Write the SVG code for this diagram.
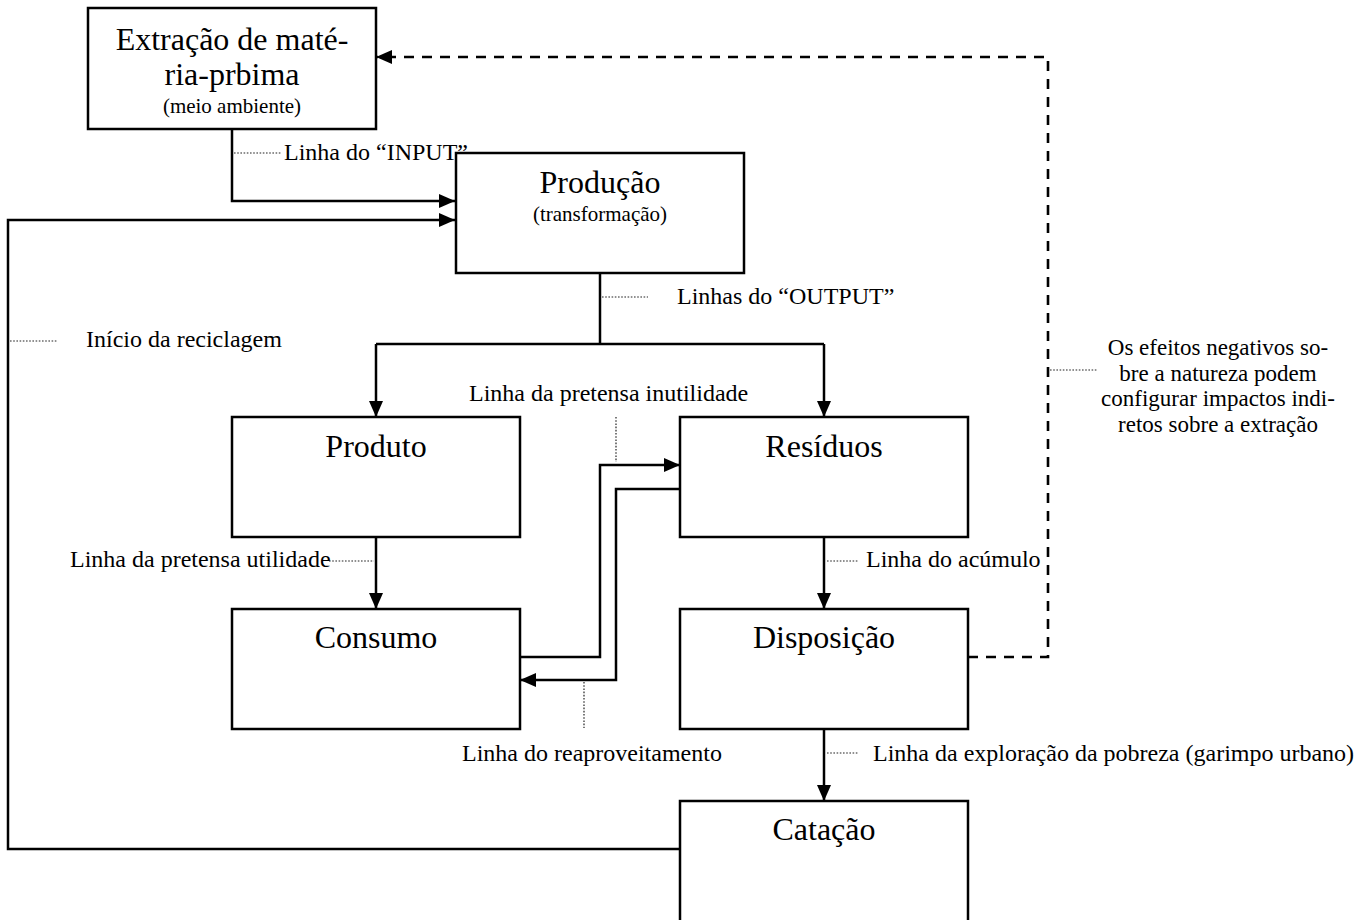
<svg xmlns="http://www.w3.org/2000/svg" width="1370" height="920" viewBox="0 0 1370 920">
<style>
.box{fill:#fff;stroke:#000;stroke-width:2.5}
.t{font-family:"Liberation Serif","Times New Roman",serif;fill:#000}
.title{font-size:32px;text-anchor:middle}
.sub{font-size:21px;text-anchor:middle}
.lbl{font-size:24px}
.note{font-size:23px;text-anchor:middle}
.c{fill:none;stroke:#000;stroke-width:2.5}
.dash{fill:none;stroke:#000;stroke-width:2.6;stroke-dasharray:10 8}
.dot{fill:none;stroke:#222;stroke-width:1.2;stroke-dasharray:1.6 1.6}
</style>
<defs>
<marker id="ah" markerUnits="userSpaceOnUse" markerWidth="18" markerHeight="16" refX="16" refY="7" orient="auto">
<path d="M0,0 L16,7 L0,14 z" fill="#000" stroke="none"/>
</marker>
</defs>
<rect width="1370" height="920" fill="#fff"/>
<g id="connectors">
<path class="c" d="M232,129 V201 H455" marker-end="url(#ah)"/>
<path class="c" d="M680,849 H8 V220 H455" marker-end="url(#ah)"/>
<path class="c" d="M600,273 V344"/>
<path class="c" d="M376,344 H824"/>
<path class="c" d="M376,344 V417" marker-end="url(#ah)"/>
<path class="c" d="M824,344 V417" marker-end="url(#ah)"/>
<path class="c" d="M376,537 V609" marker-end="url(#ah)"/>
<path class="c" d="M520,657 H600 V465 H680" marker-end="url(#ah)"/>
<path class="c" d="M680,489 H616 V680 H520" marker-end="url(#ah)"/>
<path class="c" d="M824,537 V609" marker-end="url(#ah)"/>
<path class="c" d="M824,729 V801" marker-end="url(#ah)"/>
<path class="dash" d="M968,657 H1048 V57 H376" marker-end="url(#ah)"/>
</g>
<g id="leaders">
<path class="dot" d="M234,153 H282"/>
<path class="dot" d="M602,297 H648"/>
<path class="dot" d="M10,341 H57"/>
<path class="dot" d="M616,417 V462"/>
<path class="dot" d="M329,561 H374"/>
<path class="dot" d="M827,561 H858"/>
<path class="dot" d="M584,682 V728"/>
<path class="dot" d="M827,753 H858"/>
<path class="dot" d="M1050,370 H1097"/>
</g>
<g id="extracao">
<rect class="box" x="88" y="8" width="288" height="121"/>
<text class="t title" x="232" y="50">Extração de maté-</text>
<text class="t title" x="232" y="85">ria-prbima</text>
<text class="t sub" x="232" y="113">(meio ambiente)</text>
</g>
<g id="producao">
<rect class="box" x="456" y="153" width="288" height="120"/>
<text class="t title" x="600" y="193">Produção</text>
<text class="t sub" x="600" y="221">(transformação)</text>
</g>
<g id="produto">
<rect class="box" x="232" y="417" width="288" height="120"/>
<text class="t title" x="376" y="457">Produto</text>
</g>
<g id="residuos">
<rect class="box" x="680" y="417" width="288" height="120"/>
<text class="t title" x="824" y="457">Resíduos</text>
</g>
<g id="consumo">
<rect class="box" x="232" y="609" width="288" height="120"/>
<text class="t title" x="376" y="648">Consumo</text>
</g>
<g id="disposicao">
<rect class="box" x="680" y="609" width="288" height="120"/>
<text class="t title" x="824" y="648">Disposição</text>
</g>
<g id="catacao">
<rect class="box" x="680" y="801" width="288" height="135"/>
<text class="t title" x="824" y="840">Catação</text>
</g>
<g id="labels">
<text class="t lbl" x="284" y="160">Linha do “INPUT”</text>
<text class="t lbl" x="677" y="304">Linhas do “OUTPUT”</text>
<text class="t lbl" x="86" y="347">Início da reciclagem</text>
<text class="t lbl" x="469" y="401">Linha da pretensa inutilidade</text>
<text class="t lbl" x="70" y="567">Linha da pretensa utilidade</text>
<text class="t lbl" x="866" y="567">Linha do acúmulo</text>
<text class="t lbl" x="462" y="761">Linha do reaproveitamento</text>
<text class="t lbl" x="873" y="761">Linha da exploração da pobreza (garimpo urbano)</text>
<text class="t note" x="1218" y="355">Os efeitos negativos so-</text>
<text class="t note" x="1218" y="381">bre a natureza podem</text>
<text class="t note" x="1218" y="406">configurar impactos indi-</text>
<text class="t note" x="1218" y="432">retos sobre a extração</text>
</g>
</svg>
